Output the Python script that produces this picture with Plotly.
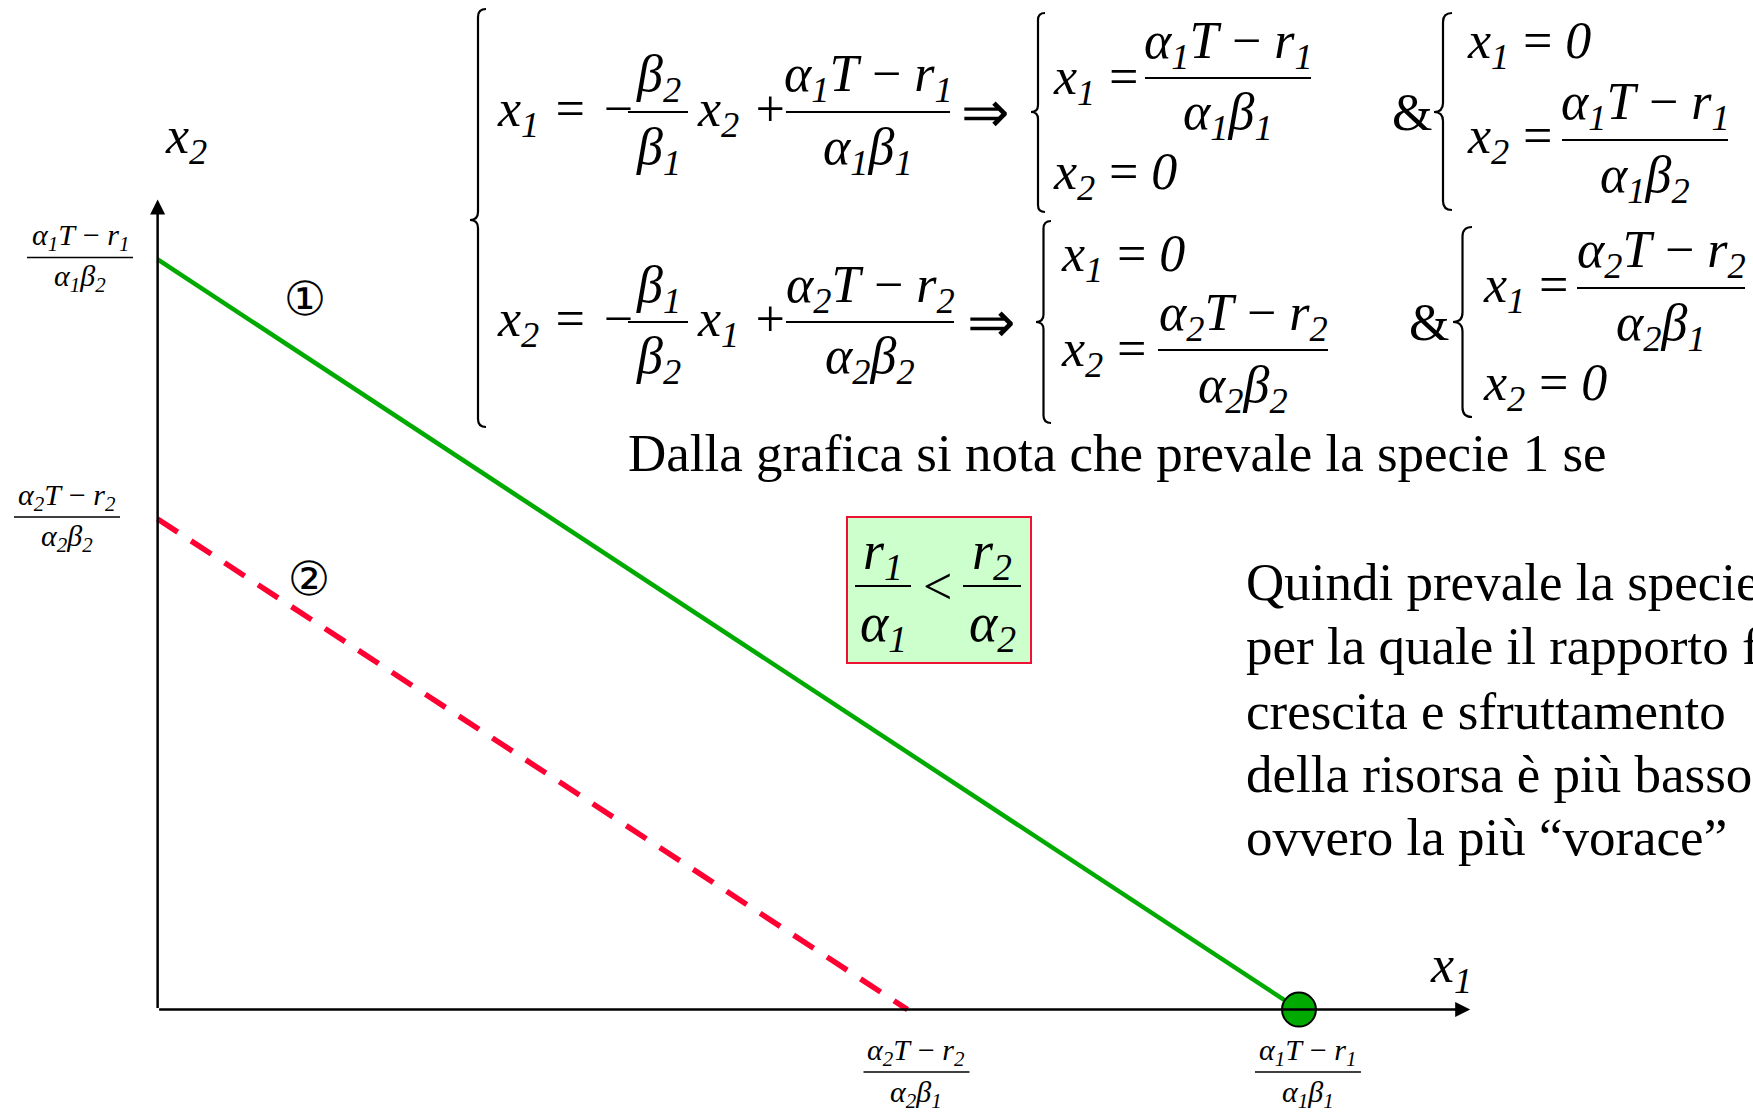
import plotly.graph_objects as go

W, H = 1753, 1116

# ---- data: the two isoclines (x1 / x2 axis intercepts) ----
species = ["1", "2"]
x1_intercept = [1.0, 0.657]      # where each isocline meets the x1 axis
x2_intercept = [1.0, 0.654]      # where each isocline meets the x2 axis
line_colors = ["#00aa00", "#ff0033"]
line_dash = ["solid", "24px,16px"]
line_widths = [4.5, 5.5]
circle_labels = ["①", "②"]

# tick labels (fractions) on the axes
x_tick_num = ["α<sub>1</sub>T\u2009−\u2009r<sub>1</sub>", "α<sub>2</sub>T\u2009−\u2009r<sub>2</sub>"]
x_tick_den = ["α<sub>1</sub>β<sub>1</sub>", "α<sub>2</sub>β<sub>1</sub>"]
y_tick_num = ["α<sub>1</sub>T\u2009−\u2009r<sub>1</sub>", "α<sub>2</sub>T\u2009−\u2009r<sub>2</sub>"]
y_tick_den = ["α<sub>1</sub>β<sub>2</sub>", "α<sub>2</sub>β<sub>2</sub>"]

x1_axis_end = 1.15
x2_axis_end = 1.08

SERIF = "Liberation Serif, Times New Roman, serif"
MATH = 52
EQ = "\u2009=\u2009"

# data ranges chosen so the origin sits near the lower-left corner
x_range = [-0.1381, 1.3978]
y_range = [-0.1418, 1.3458]

fig = go.Figure()

# isoclines
for i in range(len(species)):
    fig.add_trace(go.Scatter(
        x=[0, x1_intercept[i]], y=[x2_intercept[i], 0],
        mode="lines", line=dict(color=line_colors[i], width=line_widths[i], dash=line_dash[i]),
        name="specie " + species[i], hoverinfo="skip", showlegend=False))

# equilibrium point: species 1 wins
fig.add_trace(go.Scatter(
    x=[x1_intercept[0]], y=[0], mode="markers",
    marker=dict(size=34, color="#00aa00", line=dict(color="black", width=2)),
    hoverinfo="skip", showlegend=False))

annotations = []
shapes = []


def px(x):
    return x / W


def py(y):
    return 1 - y / H


def text(t, x, y, size=MATH, italic=True, xanchor="left", color="black"):
    annotations.append(dict(
        text=t, x=px(x), y=py(y), xref="paper", yref="paper",
        xanchor=xanchor, yanchor="middle", showarrow=False,
        font=dict(family=SERIF, size=size, color=color, style="italic" if italic else "normal")))


def frac(cx, by, width, num, den, size=MATH, up=34, down=38, lw=2):
    shapes.append(dict(type="line", xref="paper", yref="paper",
                       x0=px(cx - width / 2), x1=px(cx + width / 2), y0=py(by), y1=py(by),
                       line=dict(color="black", width=lw)))
    text(num, cx, by - up, size=size, xanchor="center")
    text(den, cx, by + down, size=size, xanchor="center")


def brace(xl, xr, yt, yb, ytip, lw=2.2):
    xm = (xl + xr) / 2
    r = min((xr - xl) / 2, 14)
    pts = [
        f"M{px(xr)},{py(yt)}",
        f"Q{px(xm)},{py(yt)} {px(xm)},{py(yt + r)}",
        f"L{px(xm)},{py(ytip - r)}",
        f"Q{px(xm)},{py(ytip)} {px(xl)},{py(ytip)}",
        f"Q{px(xm)},{py(ytip)} {px(xm)},{py(ytip + r)}",
        f"L{px(xm)},{py(yb - r)}",
        f"Q{px(xm)},{py(yb)} {px(xr)},{py(yb)}",
    ]
    shapes.append(dict(type="path", xref="paper", yref="paper", path=" ".join(pts),
                       line=dict(color="black", width=lw)))


# ---- axes with arrows ----
annotations.append(dict(x=x1_axis_end, y=0, ax=0, ay=0, xref="x", yref="y", axref="x", ayref="y",
                        text="", showarrow=True, arrowhead=2, arrowsize=1.2, arrowwidth=2.5,
                        arrowcolor="black", standoff=0))
annotations.append(dict(x=0, y=x2_axis_end, ax=0, ay=0, xref="x", yref="y", axref="x", ayref="y",
                        text="", showarrow=True, arrowhead=2, arrowsize=1.2, arrowwidth=2.5,
                        arrowcolor="black", standoff=0))

text("x<sub>1</sub>", 1428, 968)
text("x<sub>2</sub>", 163, 140)

# circled labels next to each isocline
label_x = [0.129, 0.133]
label_lift = [58, 40]
for i in range(len(species)):
    yl = x2_intercept[i] * (1 - label_x[i] / x1_intercept[i])
    annotations.append(dict(text=circle_labels[i], x=label_x[i], y=yl, xref="x", yref="y",
                            yshift=label_lift[i], showarrow=False,
                            font=dict(family="DejaVu Serif, DejaVu Sans, serif", size=47, color="black")))

# ---- tick label fractions tied to the intercepts ----
TICK = 30
for i in range(len(species)):
    # x1-axis labels
    cx_shift = 9
    shapes.append(dict(type="line", xref="x", yref="paper", xsizemode="pixel", xanchor=x1_intercept[i],
                       x0=cx_shift - 53, x1=cx_shift + 53, y0=py(1072), y1=py(1072),
                       line=dict(color="black", width=1.5)))
    annotations.append(dict(text=x_tick_num[i], x=x1_intercept[i], y=py(1072 - 20), xref="x", yref="paper",
                            xshift=cx_shift, xanchor="center", yanchor="middle", showarrow=False,
                            font=dict(family=SERIF, size=TICK, color="black", style="italic")))
    annotations.append(dict(text=x_tick_den[i], x=x1_intercept[i], y=py(1072 + 22), xref="x", yref="paper",
                            xshift=cx_shift, xanchor="center", yanchor="middle", showarrow=False,
                            font=dict(family=SERIF, size=TICK, color="black", style="italic")))
# x2-axis labels
y_label_cx = [80, 67]
for i in range(len(species)):
    shapes.append(dict(type="line", xref="paper", yref="y", ysizemode="pixel", yanchor=x2_intercept[i],
                       x0=px(y_label_cx[i] - 53), x1=px(y_label_cx[i] + 53), y0=2, y1=2,
                       line=dict(color="black", width=1.5)))
    annotations.append(dict(text=y_tick_num[i], x=px(y_label_cx[i]), y=x2_intercept[i], xref="paper", yref="y",
                            yshift=22, xanchor="center", yanchor="middle", showarrow=False,
                            font=dict(family=SERIF, size=TICK, color="black", style="italic")))
    annotations.append(dict(text=y_tick_den[i], x=px(y_label_cx[i]), y=x2_intercept[i], xref="paper", yref="y",
                            yshift=-19, xanchor="center", yanchor="middle", showarrow=False,
                            font=dict(family=SERIF, size=TICK, color="black", style="italic")))

# ---- system of isocline equations ----
brace(470, 486, 9, 427, 220)

# first row
text("x<sub>1</sub> = −", 495, 112)
frac(658, 112, 60, "β<sub>2</sub>", "β<sub>1</sub>")
text("x<sub>2</sub> +", 695, 112)
frac(868, 112, 164, "α<sub>1</sub>T\u2009−\u2009r<sub>1</sub>", "α<sub>1</sub>β<sub>1</sub>")
text("⇒", 985, 112, size=58, italic=False, xanchor="center")
brace(1031, 1045, 13, 212, 112)
text("x<sub>1</sub>" + EQ, 1051, 80)
frac(1228, 78, 166, "α<sub>1</sub>T\u2009−\u2009r<sub>1</sub>", "α<sub>1</sub>β<sub>1</sub>")
text("x<sub>2</sub>" + EQ + "0", 1051, 175)
text("&amp;", 1390, 112, italic=False)
brace(1434, 1452, 13, 210, 112)
text("x<sub>1</sub>" + EQ + "0", 1465, 45)
text("x<sub>2</sub>" + EQ, 1465, 140)
frac(1645, 140, 166, "α<sub>1</sub>T\u2009−\u2009r<sub>1</sub>", "α<sub>1</sub>β<sub>2</sub>")

# second row
text("x<sub>2</sub> = −", 495, 322)
frac(658, 322, 60, "β<sub>1</sub>", "β<sub>2</sub>")
text("x<sub>1</sub> +", 695, 322)
frac(870, 322, 168, "α<sub>2</sub>T\u2009−\u2009r<sub>2</sub>", "α<sub>2</sub>β<sub>2</sub>")
text("⇒", 991, 322, size=58, italic=False, xanchor="center")
brace(1036, 1051, 221, 423, 322)
text("x<sub>1</sub>" + EQ + "0", 1059, 257)
text("x<sub>2</sub>" + EQ, 1059, 352)
frac(1243, 350, 170, "α<sub>2</sub>T\u2009−\u2009r<sub>2</sub>", "α<sub>2</sub>β<sub>2</sub>")
text("&amp;", 1407, 322, italic=False)
brace(1453, 1472, 227, 417, 322)
text("x<sub>1</sub>" + EQ, 1481, 288)
frac(1661, 288, 168, "α<sub>2</sub>T\u2009−\u2009r<sub>2</sub>", "α<sub>2</sub>β<sub>1</sub>")
text("x<sub>2</sub>" + EQ + "0", 1481, 386)

# ---- commentary ----
text("Dalla grafica si nota che prevale la specie 1 se", 626, 453, size=53, italic=False)

shapes.append(dict(type="rect", xref="paper", yref="paper",
                   x0=px(847), x1=px(1031), y0=py(517), y1=py(663),
                   fillcolor="#ccffcc", line=dict(color="#ee1133", width=2), layer="below"))
frac(883, 586, 56, "r<sub>1</sub>", "α<sub>1</sub>", size=54, up=32, down=40)
text("&lt;", 937, 586, xanchor="center", italic=False)
frac(992, 586, 58, "r<sub>2</sub>", "α<sub>2</sub>", size=54, up=32, down=40)

quindi_lines = [
    "Quindi prevale la specie",
    "per la quale il rapporto fra",
    "crescita e sfruttamento",
    "della risorsa è più basso",
    "ovvero la più “vorace”",
]
quindi_y = [582, 646, 711, 774, 837]
for line, yy in zip(quindi_lines, quindi_y):
    text(line, 1244, yy, size=53, italic=False)

fig.update_layout(
    width=W, height=H, margin=dict(l=0, r=0, t=0, b=0),
    paper_bgcolor="white", plot_bgcolor="white",
    xaxis=dict(range=x_range, visible=False, fixedrange=True),
    yaxis=dict(range=y_range, visible=False, fixedrange=True),
    annotations=annotations, shapes=shapes, showlegend=False,
)

fig.write_html("out.html", config={"displayModeBar": False})
